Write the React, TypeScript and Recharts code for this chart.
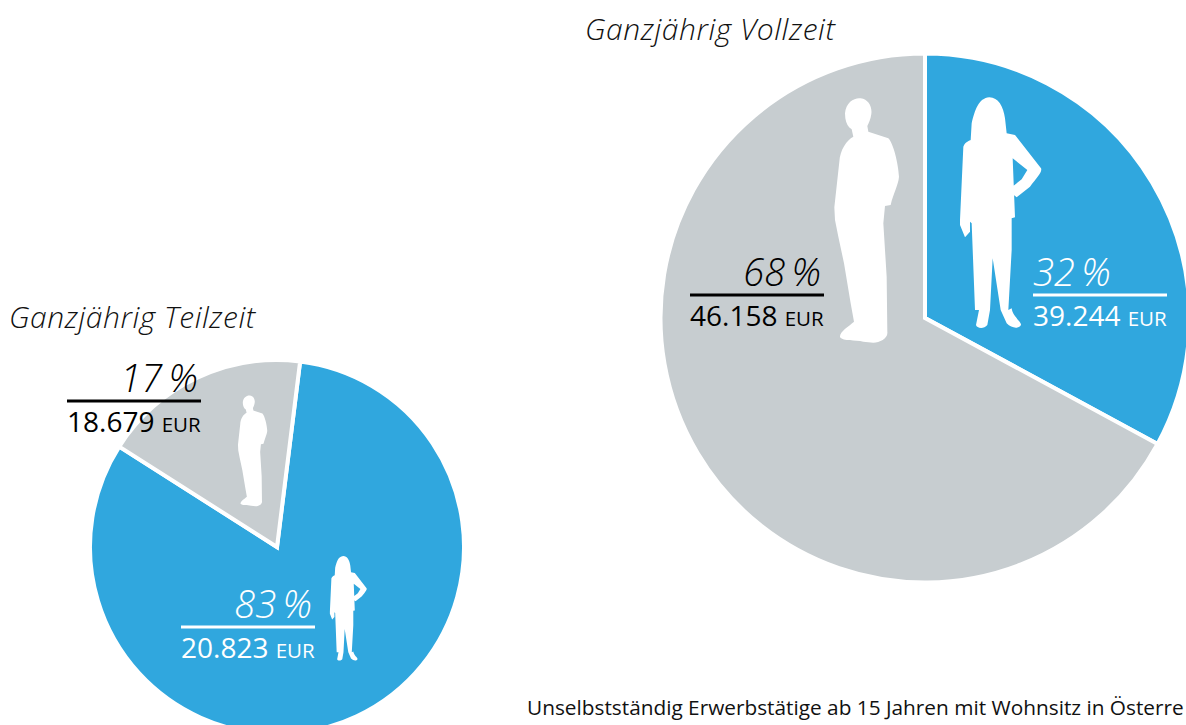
import { PieChart, Pie, Cell } from 'recharts';

const BLUE = '#30A7DE';
const GRAY = '#C7CDD0';
const FONT = '"Open Sans", sans-serif';

// slice shares (labels are rounded in the original)
const vollzeitShares = [32.9, 67.1];
const teilzeitShares = [82.05, 17.95];
const sliceNames = ['Frauen', 'Männer'];
const sliceColors = [BLUE, GRAY];

const vollzeitData = sliceNames.map((name, i) => ({ name, value: vollzeitShares[i] }));
const teilzeitData = sliceNames.map((name, i) => ({ name, value: teilzeitShares[i] }));

const MAN =
  'M45 70C48 35 75 22 92 25C115 28 127 50 124 72C122 88 116 100 112 108L115 125L175 145C190 160 205 220 207 260C205 285 190 310 182 345L165 348L160 400L170 560L172 725C175 745 150 758 130 758L100 755C75 750 40 755 30 742C28 725 55 710 72 695L62 640L42 520L25 440L15 390L13 352L28 215C30 180 50 150 70 140L65 118C55 112 48 100 46 85Z';
const WOMAN =
  'M478 22C505 22 520 50 525 85L530 130L555 135L633 235C638 245 620 265 600 290L560 322L548 312L547 290L575 268L592 240L548 205L555 382L545 385L545 480L535 660L545 655C548 680 575 695 573 705C565 718 545 715 530 700L512 660L488 505L480 660L472 705C462 718 440 715 438 705L447 660L435 660L425 400L420 395L420 425L405 442L390 405L390 390L400 170C405 155 420 152 422 150L425 100C435 60 445 25 478 22Z';

function Figure({ d, x, y, s }: { d: string; x: number; y: number; s: number }) {
  return <path d={d} fill="#fff" transform={`translate(${x} ${y}) scale(${s})`} />;
}

interface FigLabelProps {
  percent: string;
  amount: string;
  x: number; // left end of the rule
  y: number; // rule position
  color: string;
  percentEnd?: boolean;
}

function FigLabel({ percent, amount, x, y, color, percentEnd }: FigLabelProps) {
  return (
    <g fontFamily={FONT} fill={color}>
      <text
        x={percentEnd ? x + 131 : x}
        y={y - 9}
        textAnchor={percentEnd ? 'end' : 'start'}
        fontSize={38}
        fontStyle="italic"
        fontWeight={300}
      >
        {percent}
      </text>
      <rect x={x} y={y - 1.5} width={134} height={3} fill={color} />
      <text x={x} y={y + 31} fontSize={28}>
        {amount}
        <tspan fontSize={20.5} dx={2}> EUR</tspan>
      </text>
    </g>
  );
}

export default function App() {
  return (
    <div style={{ position: 'absolute', left: 0, top: 0, width: 1186, height: 725, overflow: 'hidden', background: '#fff' }}>
      <PieChart width={1186} height={725} margin={{ top: 0, right: 0, bottom: 0, left: 0 }}>
        <Pie
          data={vollzeitData}
          dataKey="value"
          cx={925}
          cy={318}
          outerRadius={264.5}
          startAngle={90}
          endAngle={-270}
          stroke="#fff"
          strokeWidth={4}
          isAnimationActive={false}
        >
          {vollzeitData.map((d, i) => (
            <Cell key={d.name} fill={sliceColors[i]} />
          ))}
        </Pie>
        <Pie
          data={teilzeitData}
          dataKey="value"
          cx={277}
          cy={547}
          outerRadius={187}
          startAngle={82.9}
          endAngle={-277.1}
          stroke="#fff"
          strokeWidth={4}
          isAnimationActive={false}
        >
          {teilzeitData.map((d, i) => (
            <Cell key={d.name} fill={sliceColors[i]} />
          ))}
        </Pie>
      </PieChart>

      {/* Recharts puts the pies above its own children, so the overlay gets its own svg */}
      <svg width={1186} height={725} style={{ position: 'absolute', left: 0, top: 0 }}>
        <Figure d={MAN} x={830} y={90} s={1 / 3} />
        <Figure d={WOMAN} x={830} y={90} s={1 / 3} />
        <Figure d={MAN} x={236} y={391.7} s={0.151} />
        <Figure d={WOMAN} x={271} y={552.7} s={0.151} />

        <text x={585} y={40} fontFamily={FONT} fontSize={30} fontStyle="italic" fontWeight={300} letterSpacing={0.55} fill="#111">
          Ganzjährig Vollzeit
        </text>
        <text x={9} y={328} fontFamily={FONT} fontSize={30} fontStyle="italic" fontWeight={300} letterSpacing={0.55} fill="#111">
          Ganzjährig Teilzeit
        </text>

        <FigLabel percent={'68\u2009%'} amount="46.158" x={690} y={295} color="#000" percentEnd />
        <FigLabel percent={'32\u2009%'} amount="39.244" x={1033} y={295} color="#fff" />
        <FigLabel percent={'17\u2009%'} amount="18.679" x={67} y={401} color="#000" percentEnd />
        <FigLabel percent={'83\u2009%'} amount="20.823" x={181} y={627} color="#fff" percentEnd />

        <text x={527} y={715} fontFamily={FONT} fontSize={20.8} fill="#111">
          Unselbstständig Erwerbstätige ab 15 Jahren mit Wohnsitz in Österre
        </text>
      </svg>
    </div>
  );
}
